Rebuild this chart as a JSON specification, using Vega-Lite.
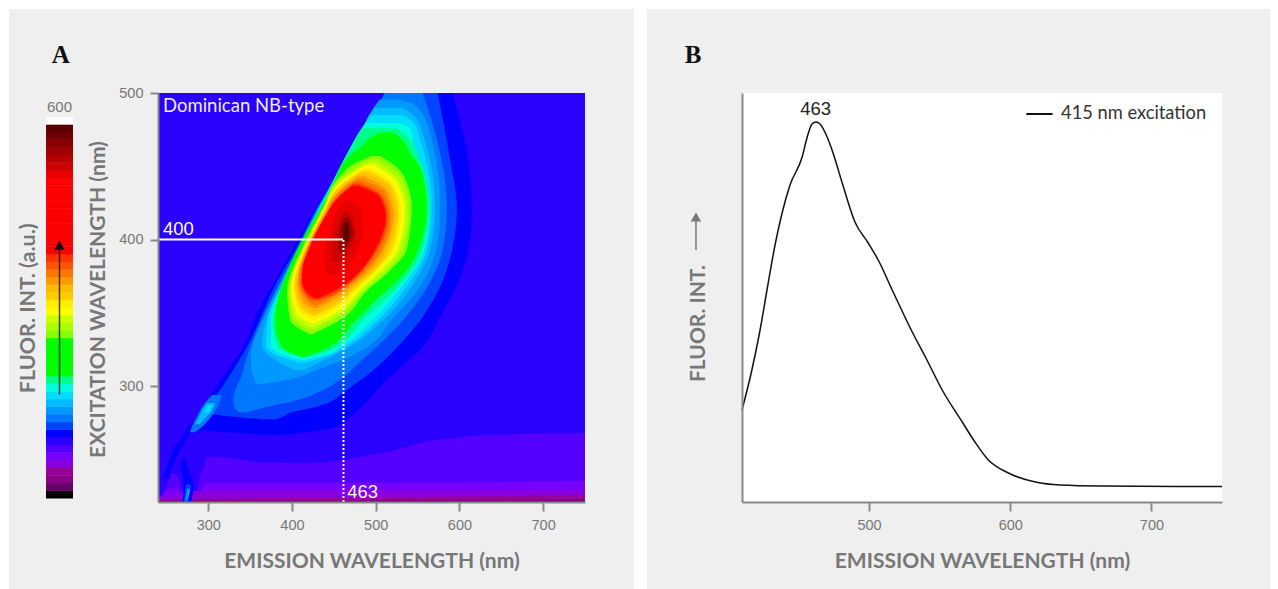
{"$schema":"https://vega.github.io/schema/vega-lite/v6.json","background":"white","padding":{"left":9,"top":9,"right":8,"bottom":0},"spacing":13,
"config":{"view":{"stroke":null},"axis":{"grid":false,"domainColor":"#888888","domainWidth":2,"tickColor":"#888888","tickWidth":2,"tickSize":9,"labelColor":"#777777","labelFont":"Liberation Sans","labelFontSize":14.5,"titleColor":"#777777","titleFont":"Lato","titleFontWeight":"bold","titleFontSize":21}},
"datasets":{
"bands":[{"b":0,"t":1.06},{"b":1,"t":2.06},{"b":2,"t":3.06},{"b":3,"t":4.06},{"b":4,"t":5.06},{"b":5,"t":6.06},{"b":6,"t":7.06},{"b":7,"t":8.06},{"b":8,"t":9.06},{"b":9,"t":10.06},{"b":10,"t":11.06},{"b":11,"t":12.06},{"b":12,"t":13.06},{"b":13,"t":14.06},{"b":14,"t":15.06},{"b":15,"t":16.06},{"b":16,"t":17.06},{"b":17,"t":18.06},{"b":18,"t":19.06},{"b":19,"t":20.06},{"b":20,"t":21.06},{"b":21,"t":22.06},{"b":22,"t":23.06},{"b":23,"t":24.06},{"b":24,"t":25.06},{"b":25,"t":26.06},{"b":26,"t":27.06},{"b":27,"t":28.06},{"b":28,"t":29.06},{"b":29,"t":30.06},{"b":30,"t":31.06},{"b":31,"t":32.06},{"b":32,"t":33.06},{"b":33,"t":34.06},{"b":34,"t":35.06},{"b":35,"t":36.06},{"b":36,"t":37.06},{"b":37,"t":38.06},{"b":38,"t":39.06},{"b":39,"t":40.06},{"b":40,"t":41.06},{"b":41,"t":42.06},{"b":42,"t":43.06},{"b":43,"t":44.06},{"b":44,"t":45.06},{"b":45,"t":46.06},{"b":46,"t":47.06},{"b":47,"t":48.06},{"b":48,"t":49.06},{"b":49,"t":50}],
"floor":[
{"b":7,"n":240,"t":500},{"b":7,"n":750,"t":500},
{"b":6,"n":240,"t":221},{"b":6,"n":248,"t":229},{"b":6,"n":258,"t":240.6},{"b":6,"n":266,"t":236},{"b":6,"n":273,"t":222},{"b":6,"n":282,"t":222},{"b":6,"n":287,"t":229},{"b":6,"n":290,"t":238.6},{"b":6,"n":294,"t":243},{"b":6,"n":299,"t":252},{"b":6,"n":326,"t":251},{"b":6,"n":362,"t":248},{"b":6,"n":410,"t":247.5},{"b":6,"n":463,"t":249.5},{"b":6,"n":493,"t":253},{"b":6,"n":521,"t":256},{"b":6,"n":553,"t":261},{"b":6,"n":589,"t":264.5},{"b":6,"n":648,"t":267},{"b":6,"n":750,"t":268},
{"b":5,"n":240,"t":221},{"b":5,"n":248,"t":228},{"b":5,"n":262,"t":231},{"b":5,"n":273,"t":222},{"b":5,"n":283,"t":222},{"b":5,"n":299,"t":234},{"b":5,"n":500,"t":234},{"b":5,"n":750,"t":235.5},
{"b":4,"n":240,"t":224},{"b":4,"n":300,"t":229},{"b":4,"n":750,"t":229},
{"b":3,"n":240,"t":223},{"b":3,"n":750,"t":225.5},
{"b":2,"n":240,"t":222},{"b":2,"n":750,"t":223},
{"b":1,"n":240,"t":221.6},{"b":1,"n":750,"t":221.8}],
"contours":[
{"s":1,"b":8,"e":500,"l":509,"h":592},{"s":1,"b":8,"e":456,"l":467,"h":610},{"s":1,"b":8,"e":418,"l":425,"h":615},{"s":1,"b":8,"e":379,"l":387,"h":604},{"s":1,"b":8,"e":347,"l":356,"h":577},{"s":1,"b":8,"e":331,"l":346,"h":562},{"s":1,"b":8,"e":302,"l":312,"h":509},{"s":1,"b":8,"e":279,"l":287,"h":469},{"s":1,"b":8,"e":271,"l":278,"h":445},{"s":1,"b":8,"e":268,"l":338,"h":410},{"s":1,"b":8,"e":266.5,"l":386,"h":389},
{"s":2,"b":9,"e":500,"l":510,"h":574},{"s":2,"b":9,"e":454,"l":466,"h":589},{"s":2,"b":9,"e":422,"l":430,"h":597},{"s":2,"b":9,"e":395,"l":406,"h":592},{"s":2,"b":9,"e":368,"l":379,"h":577},{"s":2,"b":9,"e":331,"l":350,"h":533},{"s":2,"b":9,"e":299,"l":316,"h":469},{"s":2,"b":9,"e":286,"l":300,"h":430},{"s":2,"b":9,"e":282,"l":296,"h":398},{"s":2,"b":9,"e":280,"l":316,"h":392},{"s":2,"b":9,"e":277.5,"l":364,"h":382},
{"s":3,"b":10,"e":500,"l":511,"h":556},{"s":3,"b":10,"e":475,"l":486,"h":570},{"s":3,"b":10,"e":422,"l":431,"h":585},{"s":3,"b":10,"e":393,"l":406,"h":580},{"s":3,"b":10,"e":368,"l":383,"h":562},{"s":3,"b":10,"e":331,"l":353,"h":509},{"s":3,"b":10,"e":318,"l":345,"h":484},{"s":3,"b":10,"e":306,"l":339,"h":461},{"s":3,"b":10,"e":297,"l":332,"h":436},{"s":3,"b":10,"e":290,"l":330,"h":404},{"s":3,"b":10,"e":285,"l":332,"h":364},{"s":3,"b":10,"e":282,"l":338,"h":344},
{"s":4,"b":11,"e":495.5,"l":505,"h":528},{"s":4,"b":11,"e":492,"l":500,"h":546},{"s":4,"b":11,"e":475,"l":487,"h":564},{"s":4,"b":11,"e":422,"l":432,"h":577},{"s":4,"b":11,"e":393,"l":406.5,"h":572},{"s":4,"b":11,"e":368,"l":384,"h":553},{"s":4,"b":11,"e":345,"l":365,"h":519},{"s":4,"b":11,"e":328,"l":353,"h":493},{"s":4,"b":11,"e":318,"l":351,"h":461},{"s":4,"b":11,"e":310,"l":352,"h":425},{"s":4,"b":11,"e":305.5,"l":355,"h":404},{"s":4,"b":11,"e":301.5,"l":357,"h":362},
{"s":5,"b":12,"e":490,"l":498.5,"h":532},{"s":5,"b":12,"e":485,"l":492,"h":545},{"s":5,"b":12,"e":472.7,"l":483,"h":556},{"s":5,"b":12,"e":422,"l":432.5,"h":571},{"s":5,"b":12,"e":393,"l":407,"h":565},{"s":5,"b":12,"e":368,"l":386,"h":543},{"s":5,"b":12,"e":345,"l":369,"h":509},{"s":5,"b":12,"e":328,"l":364,"h":472},{"s":5,"b":12,"e":318,"l":380,"h":439},{"s":5,"b":12,"e":311,"l":404,"h":415},
{"s":6,"b":13,"e":485,"l":494.5,"h":532},{"s":6,"b":13,"e":480,"l":488,"h":545},{"s":6,"b":13,"e":470,"l":478,"h":552},{"s":6,"b":13,"e":422,"l":433,"h":567},{"s":6,"b":13,"e":393,"l":407.5,"h":561},{"s":6,"b":13,"e":368,"l":387,"h":537},{"s":6,"b":13,"e":345,"l":371,"h":503},{"s":6,"b":13,"e":328,"l":369,"h":467},{"s":6,"b":13,"e":320,"l":386,"h":439},{"s":6,"b":13,"e":316,"l":410,"h":415},
{"s":7,"b":14,"e":479.5,"l":488,"h":529},{"s":7,"b":14,"e":475,"l":482,"h":542},{"s":7,"b":14,"e":463,"l":470,"h":545},{"s":7,"b":14,"e":422,"l":433.5,"h":565},{"s":7,"b":14,"e":393,"l":408,"h":558},{"s":7,"b":14,"e":368,"l":387.5,"h":531},{"s":7,"b":14,"e":345,"l":375,"h":496},{"s":7,"b":14,"e":328,"l":375,"h":461},{"s":7,"b":14,"e":321,"l":392,"h":439},{"s":7,"b":14,"e":318,"l":410,"h":415},
{"s":8,"b":15,"e":476,"l":484,"h":525},{"s":8,"b":15,"e":471,"l":478,"h":537},{"s":8,"b":15,"e":461,"l":468,"h":548},{"s":8,"b":15,"e":422,"l":434,"h":564},{"s":8,"b":15,"e":393,"l":408.5,"h":556},{"s":8,"b":15,"e":368,"l":388,"h":527},{"s":8,"b":15,"e":345,"l":377,"h":484},{"s":8,"b":15,"e":328,"l":382,"h":455},{"s":8,"b":15,"e":322,"l":398,"h":433},{"s":8,"b":15,"e":320,"l":410,"h":415},
{"s":9,"b":16,"e":473,"l":505,"h":522},{"s":9,"b":16,"e":468,"l":490,"h":532},{"s":9,"b":16,"e":464,"l":484,"h":537},{"s":9,"b":16,"e":459,"l":473,"h":541},{"s":9,"b":16,"e":452,"l":461,"h":550},{"s":9,"b":16,"e":445,"l":455,"h":556},{"s":9,"b":16,"e":422,"l":435,"h":561},{"s":9,"b":16,"e":402,"l":414,"h":556},{"s":9,"b":16,"e":379,"l":395,"h":537},{"s":9,"b":16,"e":357,"l":382,"h":497},{"s":9,"b":16,"e":343,"l":380,"h":473},{"s":9,"b":16,"e":327,"l":388,"h":445},{"s":9,"b":16,"e":320,"l":410,"h":417},
{"s":10,"b":21,"e":457,"l":495.5,"h":505},{"s":10,"b":21,"e":453,"l":478,"h":517},{"s":10,"b":21,"e":443,"l":457,"h":534},{"s":10,"b":21,"e":422,"l":437,"h":543},{"s":10,"b":21,"e":393,"l":411,"h":537},{"s":10,"b":21,"e":379,"l":400,"h":517},{"s":10,"b":21,"e":365.5,"l":394,"h":490},{"s":10,"b":21,"e":345,"l":398,"h":457},{"s":10,"b":21,"e":335.5,"l":421.5,"h":424},
{"s":11,"b":22,"e":455,"l":493,"h":502},{"s":11,"b":22,"e":441.6,"l":457,"h":531},{"s":11,"b":22,"e":421.3,"l":437,"h":540},{"s":11,"b":22,"e":393,"l":412,"h":533},{"s":11,"b":22,"e":379,"l":401,"h":514},{"s":11,"b":22,"e":366,"l":396,"h":488},{"s":11,"b":22,"e":347,"l":400,"h":455},{"s":11,"b":22,"e":338,"l":422,"h":425},
{"s":12,"b":23,"e":453,"l":491,"h":500},{"s":12,"b":23,"e":440,"l":457,"h":528},{"s":12,"b":23,"e":420.6,"l":437,"h":537},{"s":12,"b":23,"e":393,"l":413,"h":529},{"s":12,"b":23,"e":379.4,"l":403,"h":511},{"s":12,"b":23,"e":367,"l":398,"h":486},{"s":12,"b":23,"e":348,"l":403,"h":453},{"s":12,"b":23,"e":340,"l":423,"h":425},
{"s":13,"b":24,"e":451,"l":488,"h":497},{"s":13,"b":24,"e":439,"l":457,"h":525},{"s":13,"b":24,"e":420,"l":438,"h":534},{"s":13,"b":24,"e":393,"l":414,"h":526},{"s":13,"b":24,"e":380,"l":404,"h":507},{"s":13,"b":24,"e":367.5,"l":399,"h":484},{"s":13,"b":24,"e":350,"l":405,"h":452},{"s":13,"b":24,"e":343,"l":424,"h":426},
{"s":14,"b":25,"e":449,"l":486,"h":495},{"s":14,"b":25,"e":437,"l":457,"h":522},{"s":14,"b":25,"e":419,"l":438,"h":531},{"s":14,"b":25,"e":393,"l":415,"h":522},{"s":14,"b":25,"e":380,"l":405,"h":504},{"s":14,"b":25,"e":368,"l":401,"h":482},{"s":14,"b":25,"e":352,"l":407,"h":450},{"s":14,"b":25,"e":345,"l":424.5,"h":427},
{"s":15,"b":26,"e":447,"l":484,"h":492},{"s":15,"b":26,"e":436,"l":456.5,"h":519.5},{"s":15,"b":26,"e":418.5,"l":438,"h":527.5},{"s":15,"b":26,"e":393,"l":415.5,"h":518},{"s":15,"b":26,"e":380,"l":406.5,"h":501},{"s":15,"b":26,"e":369,"l":403,"h":479.5},{"s":15,"b":26,"e":353.5,"l":410,"h":448},{"s":15,"b":26,"e":348,"l":425,"h":427.5},
{"s":16,"b":27,"e":445,"l":481,"h":489},{"s":16,"b":27,"e":435,"l":456,"h":517},{"s":16,"b":27,"e":418,"l":438,"h":524},{"s":16,"b":27,"e":393,"l":416,"h":514},{"s":16,"b":27,"e":380,"l":408,"h":498},{"s":16,"b":27,"e":369.5,"l":405,"h":477},{"s":16,"b":27,"e":355,"l":412,"h":446},{"s":16,"b":27,"e":350,"l":426,"h":428},
{"s":17,"b":28,"e":443,"l":479,"h":487},{"s":17,"b":28,"e":433,"l":456,"h":514},{"s":17,"b":28,"e":417,"l":438,"h":521},{"s":17,"b":28,"e":393,"l":417,"h":510},{"s":17,"b":28,"e":380.5,"l":409,"h":495},{"s":17,"b":28,"e":370,"l":407,"h":475},{"s":17,"b":28,"e":357,"l":414,"h":444},{"s":17,"b":28,"e":353,"l":427,"h":429},
{"s":18,"b":29,"e":441,"l":477,"h":484},{"s":18,"b":29,"e":432,"l":456,"h":511},{"s":18,"b":29,"e":416,"l":439,"h":518},{"s":18,"b":29,"e":393,"l":418,"h":507},{"s":18,"b":29,"e":380.6,"l":410,"h":491},{"s":18,"b":29,"e":371,"l":408,"h":473},{"s":18,"b":29,"e":359,"l":417,"h":443},{"s":18,"b":29,"e":355,"l":427.5,"h":429.5},
{"s":19,"b":30,"e":439,"l":474,"h":481.5},{"s":19,"b":30,"e":430,"l":456,"h":508},{"s":19,"b":30,"e":415.5,"l":439,"h":515},{"s":19,"b":30,"e":393,"l":419,"h":503},{"s":19,"b":30,"e":381,"l":412,"h":488},{"s":19,"b":30,"e":371,"l":410,"h":471},{"s":19,"b":30,"e":360,"l":419,"h":441},{"s":19,"b":30,"e":358,"l":428,"h":430},
{"s":20,"b":31,"e":438,"l":473,"h":480},{"s":20,"b":31,"e":429.5,"l":456,"h":506.5},{"s":20,"b":31,"e":415.3,"l":439,"h":513.5},{"s":20,"b":31,"e":393,"l":419.5,"h":501},{"s":20,"b":31,"e":381,"l":412.5,"h":486.5},{"s":20,"b":31,"e":371.5,"l":411,"h":470},{"s":20,"b":31,"e":361,"l":420,"h":440},{"s":20,"b":31,"e":359,"l":428.5,"h":430.5},
{"s":21,"b":32,"e":436.5,"l":472,"h":479},{"s":21,"b":32,"e":429,"l":456,"h":505},{"s":21,"b":32,"e":415,"l":439,"h":512},{"s":21,"b":32,"e":393,"l":420,"h":499},{"s":21,"b":32,"e":381,"l":413,"h":485},{"s":21,"b":32,"e":372,"l":412,"h":469},{"s":21,"b":32,"e":362,"l":421.5,"h":439},{"s":21,"b":32,"e":360,"l":429,"h":431},
{"s":22,"b":42,"e":427,"l":463,"h":469},{"s":22,"b":42,"e":417,"l":451,"h":484},{"s":22,"b":42,"e":404,"l":445,"h":484},{"s":22,"b":42,"e":393,"l":439,"h":479},{"s":22,"b":42,"e":380.5,"l":439,"h":463},{"s":22,"b":42,"e":376,"l":445,"h":451},
{"s":23,"b":43,"e":419,"l":461,"h":469},{"s":23,"b":43,"e":404,"l":451,"h":476},{"s":23,"b":43,"e":393,"l":448,"h":469},{"s":23,"b":43,"e":385,"l":449,"h":460},
{"s":24,"b":45,"e":415,"l":461,"h":469},{"s":24,"b":45,"e":404,"l":456,"h":473},{"s":24,"b":45,"e":396,"l":455,"h":467},{"s":24,"b":45,"e":391,"l":457,"h":462},
{"s":25,"b":47,"e":412,"l":462,"h":467},{"s":25,"b":47,"e":404,"l":460,"h":469},{"s":25,"b":47,"e":398,"l":461,"h":467},
{"s":26,"b":48,"e":408,"l":463,"h":466},{"s":26,"b":48,"e":404,"l":462,"h":468},{"s":26,"b":48,"e":401,"l":463,"h":466},
{"s":27,"b":8,"e":273,"l":276,"h":284},{"s":27,"b":8,"e":263,"l":266,"h":273},{"s":27,"b":8,"e":259.7,"l":261,"h":270},{"s":27,"b":8,"e":249.5,"l":254,"h":260},{"s":27,"b":8,"e":237,"l":246,"h":252},
{"s":28,"b":10,"e":294,"l":304.5,"h":316},{"s":28,"b":10,"e":287,"l":294,"h":312},{"s":28,"b":10,"e":280,"l":287,"h":304.5},{"s":28,"b":10,"e":273,"l":281,"h":294},{"s":28,"b":10,"e":268.5,"l":278,"h":284},
{"s":29,"b":12,"e":288.5,"l":298.5,"h":308},{"s":29,"b":12,"e":283.5,"l":292.5,"h":304.5},{"s":29,"b":12,"e":278,"l":288,"h":296},{"s":29,"b":12,"e":274,"l":284,"h":290},
{"s":30,"b":13,"e":287,"l":299.5,"h":305.5},{"s":30,"b":13,"e":282,"l":295,"h":301},
{"s":31,"b":8,"e":251.5,"l":270,"h":272.5},{"s":31,"b":8,"e":245,"l":267.5,"h":275},{"s":31,"b":8,"e":238,"l":270,"h":279.5},{"s":31,"b":8,"e":231,"l":271,"h":282},{"s":31,"b":8,"e":221,"l":269,"h":280},
{"s":32,"b":9,"e":233,"l":273.5,"h":279.5},{"s":32,"b":9,"e":228,"l":272,"h":278},{"s":32,"b":9,"e":221,"l":271,"h":276},
{"s":33,"b":11,"e":230,"l":275,"h":278.5},{"s":33,"b":11,"e":225.5,"l":273.5,"h":277},{"s":33,"b":11,"e":222,"l":272,"h":274.5}],
"curve":[{"n":410,"v":92},{"n":417,"v":132},{"n":422.8,"v":172},{"n":427.7,"v":212},{"n":433.4,"v":257},{"n":438.4,"v":289},{"n":444,"v":317},{"n":452.6,"v":345},{"n":456,"v":364},{"n":459.6,"v":378},{"n":462.5,"v":380},{"n":465.3,"v":378},{"n":470.3,"v":365},{"n":474.5,"v":349},{"n":481,"v":319},{"n":490,"v":280},{"n":499.4,"v":259},{"n":506.5,"v":242},{"n":516.4,"v":212},{"n":530.6,"v":170},{"n":541,"v":142},{"n":551.8,"v":112},{"n":566,"v":80},{"n":575,"v":60},{"n":584.5,"v":42},{"n":598.7,"v":29},{"n":617.8,"v":20},{"n":635.5,"v":17},{"n":664,"v":16},{"n":750,"v":15.5}]},
"hconcat":[
{"width":427,"height":409,
"resolve":{"scale":{"x":"independent","y":"independent"}},
"layer":[
{"data":{"values":[{"t":"A","x":0.083,"y":0.079}]},
"layer":[
{"mark":{"type":"rect","color":"#efefef"},"encoding":{"x":{"datum":0,"type":"quantitative","scale":{"domain":[0,1],"range":[-149,476]},"axis":null},"x2":{"datum":1},"y":{"datum":0,"type":"quantitative","scale":{"domain":[0,1],"range":[-84,496]},"axis":null},"y2":{"datum":1}}},
{"mark":{"type":"text","font":"Liberation Serif","fontWeight":"bold","fontSize":25,"color":"#111111"},"encoding":{"x":{"field":"x","type":"quantitative"},"y":{"field":"y","type":"quantitative"},"text":{"field":"t"}}}]},
{"layer":[
{"data":{"name":"floor"},"mark":{"type":"area","interpolate":"monotone"},"encoding":{"x":{"field":"n","type":"quantitative","scale":{"domain":[240,750],"nice":false},"axis":{"zindex":1,"orient":"bottom","title":"EMISSION WAVELENGTH (nm)","values":[300,400,500,600,700],"labelPadding":7,"titlePadding":19}},"y":{"field":"t","type":"quantitative","scale":{"domain":[221,500],"nice":false},"axis":{"zindex":1,"orient":"left","title":"EXCITATION WAVELENGTH (nm)","values":[300,400,500],"tickSize":8,"labelPadding":7,"titlePadding":10,"titleY":206}},"y2":{"datum":221},"color":{"field":"b","type":"ordinal","legend":null,"scale":{"domain":[0,1,2,3,4,5,6,7,8,9,10,11,12,13,14,15,16,17,18,19,20,21,22,23,24,25,26,27,28,29,30,31,32,33,34,35,36,37,38,39,40,41,42,43,44,45,46,47,48,49],"range":["#000000","#660066","#880088","#990099","#8800dd","#7700ff","#5500ff","#2a00ff","#0000ff","#0044ff","#0077ff","#0099ff","#00bbff","#00ddff","#00ffdd","#00ff88","#00ff00","#00ff00","#00ff00","#00ff00","#00ff00","#88ff00","#aaff00","#ccff00","#ffff00","#ffee00","#ffcc00","#ffbb00","#ff9900","#ff7700","#ff5500","#ff3300","#ff0000","#ff0000","#ff0000","#ff0000","#ff0000","#ff0000","#ff0000","#ff0000","#ff0000","#ff0000","#e60000","#cc0000","#b80000","#a00000","#880000","#700000","#5a0000","#ffffff"]}}}},
{"data":{"name":"contours"},"mark":{"type":"area","orient":"horizontal","interpolate":"monotone"},"encoding":{"y":{"field":"e","type":"quantitative"},"x":{"field":"l","type":"quantitative"},"x2":{"field":"h"},"detail":{"field":"s"},"color":{"field":"b","type":"ordinal"}}},
{"data":{"values":[{"a":240,"b":461,"c":400}]},"mark":{"type":"rule","color":"white","strokeWidth":2},"encoding":{"x":{"field":"a","type":"quantitative"},"x2":{"field":"b"},"y":{"field":"c","type":"quantitative"}}},
{"data":{"values":[{"a":461.5,"c":221,"d":400}]},"mark":{"type":"rule","color":"white","strokeWidth":2,"strokeDash":[2,2]},"encoding":{"x":{"field":"a","type":"quantitative"},"y":{"field":"c","type":"quantitative"},"y2":{"field":"d"}}},
{"data":{"values":[{"t":"400","x":246,"y":407.5},{"t":"463","x":466,"y":228}]},"mark":{"type":"text","align":"left","font":"Liberation Sans","fontSize":18.5,"color":"white"},"encoding":{"x":{"field":"x","type":"quantitative"},"y":{"field":"y","type":"quantitative"},"text":{"field":"t"}}},
{"data":{"values":[{"t":"Dominican NB-type","x":246,"y":491}]},"mark":{"type":"text","align":"left","font":"Lato","fontSize":18.5,"color":"#f0ebff"},"encoding":{"x":{"field":"x","type":"quantitative"},"y":{"field":"y","type":"quantitative"},"text":{"field":"t"}}}]},
{"layer":[
{"data":{"name":"bands"},"mark":{"type":"rect"},"encoding":{"x":{"datum":0,"type":"quantitative","scale":{"domain":[0,1],"range":[-112,-85]},"axis":null},"x2":{"datum":1},"y":{"field":"b","type":"quantitative","scale":{"domain":[0,50],"range":[405.5,24]},"axis":{"zindex":1,"title":"FLUOR. INT. (a.u.)","titleFontSize":21.5,"orient":"left","offset":112,"labels":false,"ticks":false,"domain":false,"titlePadding":7}},"y2":{"field":"t"},"color":{"field":"b","type":"ordinal","legend":null}}},
{"data":{"values":[{"a":13.6,"b":33.2,"c":0.5}]},"mark":{"type":"rule","color":"#111111","opacity":0.8,"strokeWidth":1.5},"encoding":{"x":{"field":"c","type":"quantitative"},"y":{"field":"a","type":"quantitative"},"y2":{"field":"b"}}},
{"data":{"values":[{"a":33.2,"c":0.5}]},"mark":{"type":"point","shape":"triangle-up","filled":true,"size":110,"color":"#111111","opacity":1},"encoding":{"x":{"field":"c","type":"quantitative"},"y":{"field":"a","type":"quantitative"}}},
{"data":{"values":[{"a":51.3,"c":0.5,"t":"600"}]},"mark":{"type":"text","font":"Liberation Sans","fontSize":15,"color":"#777777"},"encoding":{"x":{"field":"c","type":"quantitative"},"y":{"field":"a","type":"quantitative"},"text":{"field":"t"}}}]}
]},
{"width":480,"height":409,
"resolve":{"scale":{"x":"independent","y":"independent"}},
"layer":[
{"data":{"values":[{"t":"B","x":0.074,"y":0.079}]},
"layer":[
{"mark":{"type":"rect","color":"#efefef"},"encoding":{"x":{"datum":0,"type":"quantitative","scale":{"domain":[0,1],"range":[-95,528]},"axis":null},"x2":{"datum":1},"y":{"datum":0,"type":"quantitative","scale":{"domain":[0,1],"range":[-84,496]},"axis":null},"y2":{"datum":1}}},
{"mark":{"type":"text","font":"Liberation Serif","fontWeight":"bold","fontSize":25,"color":"#111111"},"encoding":{"x":{"field":"x","type":"quantitative"},"y":{"field":"y","type":"quantitative"},"text":{"field":"t"}}}]},
{"layer":[
{"data":{"values":[{"a":410,"b":750,"c":0,"d":409}]},"mark":{"type":"rect","color":"white"},"encoding":{"x":{"field":"a","type":"quantitative","scale":{"domain":[410,750],"nice":false},"axis":{"zindex":1,"orient":"bottom","title":"EMISSION WAVELENGTH (nm)","values":[500,600,700],"labelPadding":7,"titlePadding":19}},"x2":{"field":"b"},"y":{"field":"c","type":"quantitative","scale":{"domain":[0,409],"nice":false},"axis":{"zindex":1,"orient":"left","title":"FLUOR. INT.","ticks":false,"labels":false,"titlePadding":34,"titleY":230}},"y2":{"field":"d"}}},
{"data":{"name":"curve"},"mark":{"type":"line","color":"#111111","strokeWidth":1.5,"interpolate":"monotone"},"encoding":{"x":{"field":"n","type":"quantitative"},"y":{"field":"v","type":"quantitative"}}},
{"data":{"values":[{"a":611.4,"b":630,"c":388}]},"mark":{"type":"rule","color":"#111111","strokeWidth":2},"encoding":{"x":{"field":"a","type":"quantitative"},"x2":{"field":"b"},"y":{"field":"c","type":"quantitative"}}},
{"data":{"values":[{"t":"415 nm excitation","x":636,"y":388}]},"mark":{"type":"text","align":"left","font":"Lato","fontSize":18.3,"color":"#333333"},"encoding":{"x":{"field":"x","type":"quantitative"},"y":{"field":"y","type":"quantitative"},"text":{"field":"t"}}},
{"data":{"values":[{"t":"463","x":462.2,"y":393}]},"mark":{"type":"text","font":"Liberation Sans","fontSize":18.5,"color":"#222222"},"encoding":{"x":{"field":"x","type":"quantitative"},"y":{"field":"y","type":"quantitative"},"text":{"field":"t"}}},
{"data":{"values":[{"a":377.4,"c":252,"d":282}]},"mark":{"type":"rule","color":"#777777","strokeWidth":1.5},"encoding":{"x":{"field":"a","type":"quantitative"},"y":{"field":"c","type":"quantitative"},"y2":{"field":"d"}}},
{"data":{"values":[{"a":377.4,"c":285}]},"mark":{"type":"point","shape":"triangle-up","filled":true,"size":110,"color":"#777777","opacity":1},"encoding":{"x":{"field":"a","type":"quantitative"},"y":{"field":"c","type":"quantitative"}}}]}
]}
]}
